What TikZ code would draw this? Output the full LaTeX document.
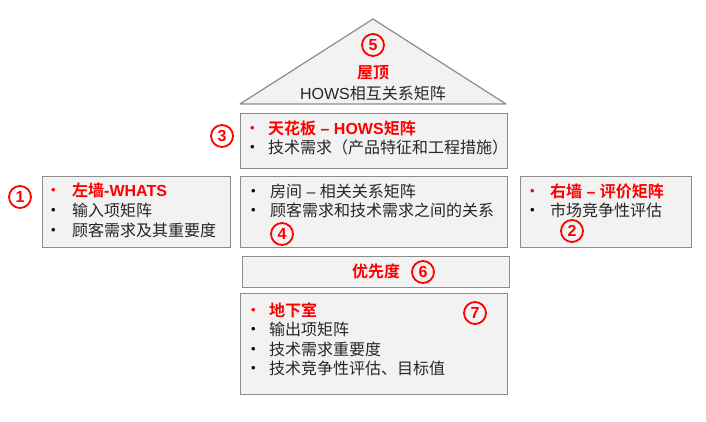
\documentclass[tikz,border=0pt]{standalone}
\usepackage{fontspec}
\setmainfont{Liberation Sans}
\newfontfamily\cjk{Noto Sans CJK SC}[BoldFont={Noto Sans CJK SC Bold}]
\usetikzlibrary{positioning}
\definecolor{boxgray}{HTML}{F2F2F2}
\definecolor{edgegray}{HTML}{8C8C8C}
\definecolor{hdred}{HTML}{FF0000}
\newcommand\bl[2][20pt]{\makebox[#1][l]{\raisebox{1.6pt}{\textcolor{#2}{\mdseries\fontsize{13}{13}\selectfont•}}}}
\tikzset{
  part/.style={draw=edgegray, fill=boxgray, line width=1.2pt, inner sep=0pt, anchor=north west},
  num/.style={circle, draw=hdred, line width=1.8pt, minimum size=22pt, inner sep=0pt, text=hdred,
    font=\fontsize{16}{16}\selectfont\bfseries},
  txt/.style={anchor=west, inner sep=0pt, text=black!85, font=\fontsize{16}{18}\selectfont},
  head/.style={txt, text=hdred, font=\fontsize{16}{18}\selectfont\bfseries},
}

\begin{document}
\begin{tikzpicture}[x=1pt,y=-1pt]
\useasboundingbox (0,0) rectangle (706,422);
% roof
\coordinate (rl) at (240,104);
\coordinate (rt) at (373,19);
\coordinate (rr) at (506,104);
\draw[draw=edgegray, fill=boxgray, line width=1.2pt, line join=round] (rl) -- (rt) -- (rr) -- cycle;
\node[head, anchor=center] (rooft) at (373,73) {\cjk 屋顶};
\node[txt, anchor=center] (roofs) at (373,93) {HOWS{\cjk 相互关系矩阵}};
% boxes
\node[part, minimum width=267pt, minimum height=55pt] (ceil) at (240,113) {};
\node[part, minimum width=188pt, minimum height=71pt] (lwall) at (42,176) {};
\node[part, minimum width=267pt, minimum height=71pt] (room) at (240,176) {};
\node[part, minimum width=171pt, minimum height=71pt] (rwall) at (520,176) {};
\node[part, minimum width=267pt, minimum height=31pt] (prio) at (242,256) {};
\node[part, minimum width=267pt, minimum height=101pt] (base) at (240,293) {};
% ceiling
\node[head] (ceil1) at (250,128) {\bl[18pt]{hdred}{\cjk 天花板} – HOWS{\cjk 矩阵}};
\node[txt] (ceil2) at (250,147) {\bl[18pt]{black}{\cjk 技术需求（产品特征和工程措施）}};
% left wall
\node[head] (lw1) at (51,190) {\bl[21pt]{hdred}{\cjk 左墙}-WHATS};
\node[txt] (lw2) at (51,210) {\bl[21pt]{black}{\cjk 输入项矩阵}};
\node[txt] (lw3) at (51,230) {\bl[21pt]{black}{\cjk 顾客需求及其重要度}};
% room
\node[txt] (rm1) at (251,191) {\bl[19pt]{black}{\cjk 房间} – {\cjk 相关关系矩阵}};
\node[txt] (rm2) at (251,210) {\bl[19pt]{black}{\cjk 顾客需求和技术需求之间的关系}};
% right wall
\node[head] (rw1) at (530,191) {\bl[20pt]{hdred}{\cjk 右墙} – {\cjk 评价矩阵}};
\node[txt] (rw2) at (530,210) {\bl[20pt]{black}{\cjk 市场竞争性评估}};
% priority
\node[head, anchor=center] (prio1) at (376,271) {\cjk 优先度};
% basement
\node[head] (bs1) at (251,310) {\bl[18pt]{hdred}{\cjk 地下室}};
\node[txt] (bs2) at (251,329) {\bl[18pt]{black}{\cjk 输出项矩阵}};
\node[txt] (bs3) at (251,349) {\bl[18pt]{black}{\cjk 技术需求重要度}};
\node[txt] (bs4) at (251,368) {\bl[18pt]{black}{\cjk 技术竞争性评估、目标值}};
% numbers
\node[num] (n1) at (20,197) {1};
\node[num] (n2) at (572,231) {2};
\node[num] (n3) at (222,136) {3};
\node[num] (n4) at (282,234) {4};
\node[num] (n5) at (373,45) {5};
\node[num] (n6) at (423,272) {6};
\node[num] (n7) at (475,313) {7};
\end{tikzpicture}
\end{document}
